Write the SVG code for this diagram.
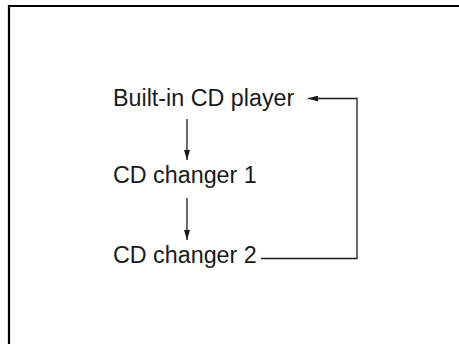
<svg xmlns="http://www.w3.org/2000/svg" width="459" height="344" viewBox="0 0 459 344">
<defs>
<style>
.lbl{font-family:"Liberation Sans",Arial,sans-serif;font-size:23.3px;fill:#1a1a1a}
.con{stroke:#1a1a1a;stroke-width:1.3;fill:none}
</style>
<marker id="ah" viewBox="0 0 10 6" refX="10" refY="3" markerWidth="10" markerHeight="6" markerUnits="userSpaceOnUse" orient="auto">
<path d="M0,0 L10,3 L0,6 Z" fill="#1a1a1a"/>
</marker>
</defs>
<rect width="459" height="344" fill="#fff"/>
<path d="M9,344 V6 H459" stroke="#000" stroke-width="2.2" fill="none"/>
<g id="node-builtin"><text class="lbl" x="113" y="105.5">Built-in CD player</text></g>
<g id="node-changer1"><text class="lbl" x="113" y="183">CD changer 1</text></g>
<g id="node-changer2"><text class="lbl" x="113" y="262.5">CD changer 2</text></g>
<g id="connectors">
<line class="con" x1="187" y1="119" x2="187" y2="160" marker-end="url(#ah)"/>
<line class="con" x1="187" y1="198" x2="187" y2="240" marker-end="url(#ah)"/>
<path class="con" d="M261,258.5 H357 V98.5 H308" marker-end="url(#ah)"/>
</g>
</svg>
